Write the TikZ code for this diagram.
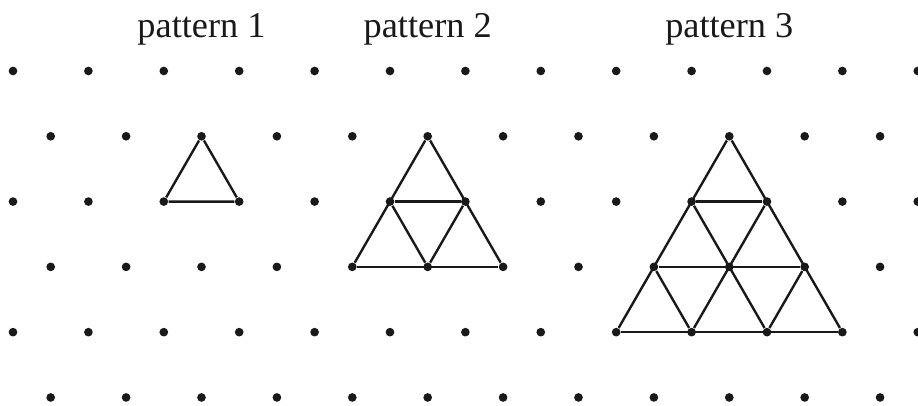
\documentclass[tikz,border=0pt]{standalone}
\usepackage{fontspec}
\setmainfont{Liberation Serif}
\usepackage{tikz}
\usetikzlibrary{positioning}

\begin{document}
\begin{tikzpicture}[
    dot/.style={circle, fill=black!90, inner sep=0pt, minimum size=0.115cm},
    edge/.style={line width=0.9pt, draw=black!90},
    title/.style={anchor=base, font=\fontsize{13.7}{16}\selectfont, text=black!90}
]
\useasboundingbox (-0.1724,-4.443) rectangle (12.003,0.9416);

% dot grid: rows 0,2,4 start at x=0, rows 1,3,5 start at x=0.5
\foreach \r in {0,2,4}
  \foreach \c in {0,2,...,24}
    \node[dot] (d-\r-\c) at ({\c/2},{-0.866*\r}) {};
\foreach \r in {1,3,5}
  \foreach \c in {1,3,...,23}
    \node[dot] (d-\r-\c) at ({\c/2},{-0.866*\r}) {};

% titles
\node[title] (t1) at (2.5,0.4377) {pattern 1};
\node[title] (t2) at (5.5,0.4377) {pattern 2};
\node[title] (t3) at (9.5,0.4377) {pattern 3};

% pattern 1
\draw[edge] (d-1-5) -- (d-2-4) -- (d-2-6) -- (d-1-5);

% pattern 2
\draw[edge] (d-1-11) -- (d-3-9);
\draw[edge] (d-1-11) -- (d-3-13);
\draw[edge] (d-2-10) -- (d-2-12);
\draw[edge] (d-3-9) -- (d-3-13);
\draw[edge] (d-2-10) -- (d-3-11) -- (d-2-12);

% pattern 3
\draw[edge] (d-1-19) -- (d-4-16);
\draw[edge] (d-1-19) -- (d-4-22);
\draw[edge] (d-2-18) -- (d-2-20);
\draw[edge] (d-3-17) -- (d-3-21);
\draw[edge] (d-4-16) -- (d-4-22);
\draw[edge] (d-2-18) -- (d-4-20);
\draw[edge] (d-3-17) -- (d-4-18);
\draw[edge] (d-2-20) -- (d-4-18);
\draw[edge] (d-3-21) -- (d-4-20);

\end{tikzpicture}
\end{document}
